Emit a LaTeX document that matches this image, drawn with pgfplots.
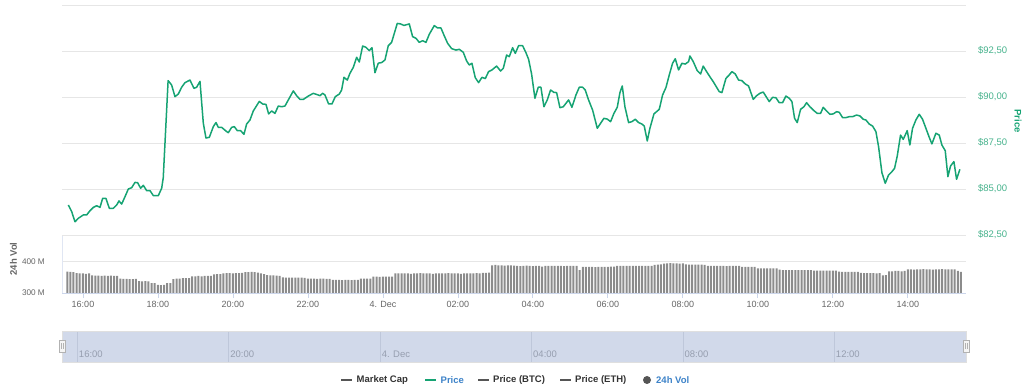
\documentclass[border=0pt]{standalone}
\usepackage{pgfplots}
\pgfplotsset{compat=1.18}
\usepackage{fontspec}
\setmainfont{Liberation Sans}
\definecolor{pricecol}{RGB}{22,163,115}
\definecolor{pricelab}{RGB}{70,178,140}
\definecolor{barcol}{RGB}{140,140,140}
\definecolor{gridcol}{RGB}{230,230,230}
\definecolor{axcol}{RGB}{204,214,235}
\definecolor{tickcol}{RGB}{102,102,102}
\definecolor{navfill}{RGB}{209,217,234}
\definecolor{navgrid}{RGB}{190,199,218}
\definecolor{navlab}{RGB}{150,158,175}
\definecolor{legdark}{RGB}{51,51,51}
\definecolor{legline}{RGB}{85,85,85}
\definecolor{legblue}{RGB}{60,130,200}
\begin{document}
\begin{tikzpicture}[x=1pt,y=1pt]
\useasboundingbox (0,0) rectangle (1024,390);
% ---------------- price pane
\begin{axis}[at={(62pt,155pt)}, anchor=south west, scale only axis,
  width=904pt, height=230pt,
  xmin=-0.56, xmax=23.55, ymin=82.5, ymax=95,
  axis line style={draw=none}, xtick=\empty,
  ytick={82.5,85,87.5,90,92.5,95},
  yticklabels={{\$82,50},{\$85,00},{\$87,50},{\$90,00},{\$92,50},{}},
  yticklabel pos=right, ymajorgrids, major tick length=0pt,
  grid style={draw=gridcol, line width=0.9pt},
  yticklabel style={font=\fontsize{9.5}{11}\selectfont, text=pricelab, anchor=west, xshift=8.5pt},
]
\addplot[color=pricecol, line width=1.5pt, line join=round] coordinates {
(-0.391,84.13) (-0.302,83.77) (-0.213,83.22) (-0.124,83.41) (0.009,83.59) (0.098,83.59) (0.187,83.82) (0.276,84.00) (0.364,84.09) (0.453,84.00) (0.524,84.49) (0.613,84.49) (0.702,83.95) (0.809,83.95) (0.898,84.13) (0.960,84.35) (1.031,84.18) (1.120,84.58) (1.209,85.00) (1.298,85.07) (1.387,85.36) (1.458,85.34) (1.538,85.04) (1.609,85.20) (1.698,84.91) (1.787,84.91) (1.876,84.64) (2.009,84.64) (2.098,85.04) (2.140,85.60) (2.270,90.89) (2.364,90.65) (2.453,90.02) (2.542,90.16) (2.631,90.53) (2.720,90.78) (2.853,90.92) (2.960,90.47) (3.031,90.53) (3.120,90.85) (3.209,88.57) (3.280,87.77) (3.369,87.81) (3.476,88.39) (3.547,88.61) (3.609,88.35) (3.698,88.35) (3.831,88.12) (3.876,88.06) (3.964,88.35) (4.036,88.39) (4.116,88.17) (4.204,88.17) (4.293,87.97) (4.364,88.53) (4.453,88.75) (4.542,89.24) (4.702,89.76) (4.791,89.62) (4.880,89.60) (4.951,89.08) (5.031,89.24) (5.120,89.11) (5.209,89.51) (5.298,89.47) (5.387,89.51) (5.476,89.84) (5.609,90.33) (5.698,90.07) (5.787,89.87) (5.876,89.87) (6.009,90.05) (6.142,90.20) (6.231,90.14) (6.320,90.07) (6.391,90.20) (6.453,90.11) (6.551,89.62) (6.640,89.62) (6.729,90.02) (6.836,90.16) (6.898,90.38) (6.960,91.07) (7.049,90.92) (7.120,91.29) (7.209,91.61) (7.298,92.16) (7.369,91.90) (7.458,92.77) (7.547,92.70) (7.636,92.52) (7.707,92.68)
(7.787,91.32) (7.876,91.84) (7.964,91.87) (8.053,92.01) (8.142,92.79) (8.231,92.97) (8.382,94.00) (8.471,93.97) (8.560,93.89) (8.702,93.97) (8.791,93.28) (8.880,93.19) (8.969,92.97) (9.058,93.06) (9.147,92.97) (9.236,93.41) (9.369,93.88) (9.458,93.75) (9.547,93.75) (9.636,93.32) (9.724,92.92) (9.831,92.63) (9.947,92.55) (10.036,92.59) (10.142,92.43) (10.231,91.96) (10.302,91.74) (10.373,91.83) (10.462,91.05) (10.551,90.78) (10.640,91.07) (10.729,91.00) (10.818,91.38) (10.907,91.47) (11.031,91.68) (11.138,91.41) (11.209,91.56) (11.298,92.28) (11.369,92.19) (11.458,92.68) (11.529,92.37) (11.618,92.79) (11.724,92.79) (11.813,92.41) (11.884,92.05) (11.964,91.25) (12.053,89.93) (12.142,90.53) (12.213,90.53) (12.293,89.47) (12.382,89.84) (12.471,90.38) (12.560,90.25) (12.631,90.24) (12.720,89.42) (12.809,89.47) (12.951,89.84) (13.040,89.44) (13.147,90.11) (13.236,90.53) (13.324,90.53) (13.396,90.38) (13.484,89.84) (13.591,89.29) (13.716,88.30) (13.804,88.57) (13.893,88.84) (13.982,88.80) (14.071,88.66) (14.160,89.11) (14.249,89.44) (14.320,90.24) (14.382,90.60) (14.453,89.47) (14.551,88.61) (14.640,88.66) (14.729,88.79) (14.818,88.61) (14.907,88.53) (14.969,88.42) (15.049,87.61) (15.120,88.30) (15.227,89.08) (15.369,89.33) (15.458,90.11) (15.547,90.51) (15.636,91.20) (15.724,91.83) (15.796,92.08) (15.884,91.47) (15.973,91.83) (16.062,91.79) (16.151,91.92)
(16.187,92.23) (16.276,91.92) (16.382,91.43) (16.471,91.25) (16.542,91.68) (16.631,91.38) (16.720,91.10) (16.809,90.83) (16.898,90.53) (16.969,90.29) (17.040,90.24) (17.147,91.01) (17.236,91.20) (17.307,91.38) (17.396,91.25) (17.484,90.92) (17.573,90.89) (17.662,90.71) (17.751,90.60) (17.876,89.87) (17.964,90.07) (18.053,90.20) (18.142,90.27) (18.231,89.98) (18.302,89.75) (18.391,89.98) (18.480,89.96) (18.569,89.69) (18.658,89.69) (18.747,90.05) (18.836,89.93) (18.907,89.75) (18.978,88.84) (19.049,88.61) (19.138,89.33) (19.227,89.47) (19.298,89.69) (19.387,89.47) (19.493,89.26) (19.582,89.11) (19.671,89.11) (19.742,89.44) (19.831,89.24) (19.920,89.06) (20.009,89.08) (20.098,89.20) (20.169,89.17) (20.258,88.88) (20.347,88.88) (20.436,88.93) (20.524,88.93) (20.631,89.02) (20.720,88.97) (20.809,88.79) (20.880,88.75) (20.969,88.53) (21.058,88.42) (21.147,88.12) (21.218,87.30) (21.307,85.89) (21.396,85.31) (21.484,85.76) (21.573,85.94) (21.644,86.12) (21.716,86.79) (21.804,87.93) (21.876,87.70) (21.982,88.17) (22.053,87.39) (22.124,88.30) (22.213,88.75) (22.302,89.06) (22.391,88.79) (22.480,88.30) (22.569,87.81) (22.640,87.45) (22.747,88.03) (22.836,87.93) (22.907,87.39) (22.996,87.08) (23.067,85.67) (23.138,86.25) (23.227,86.49) (23.298,85.53) (23.387,86.07)
};
\end{axis}
% ---------------- volume pane
\begin{axis}[at={(62pt,97pt)}, anchor=south west, scale only axis,
  width=904pt, height=57pt,
  xmin=-0.56, xmax=23.55, ymin=300, ymax=481,
  axis x line*=bottom, axis y line*=left,
  x axis line style={draw=axcol, line width=0.9pt, -},
  y axis line style={draw=axcol!60, line width=0.8pt, -},
  xtick={0,2,...,22},
  xticklabels={16:00,18:00,20:00,22:00,4. Dec,02:00,04:00,06:00,08:00,10:00,12:00,14:00},
  tick align=outside, x tick style={draw=axcol, line width=0.9pt}, major tick length=5pt,
  ytick={300,400}, yticklabels={300 M,400 M}, y tick style={draw=none},
  ymajorgrids, grid style={draw=gridcol, line width=0.9pt},
  xticklabel style={font=\fontsize{9}{10}\selectfont, text=tickcol},
  yticklabel style={font=\fontsize{8.2}{9}\selectfont, text=tickcol, anchor=east, inner sep=0pt, xshift=-12pt},
]
\addplot[ybar, bar width=2pt, fill=barcol, draw=none] table[header=false, row sep=\\, x expr=\coordindex/12-0.42, y index=0] {
368\\367\\366\\363\\362\\362\\361\\362\\356\\355\\355\\354\\
355\\354\\355\\354\\354\\346\\345\\345\\344\\344\\345\\338\\
337\\338\\337\\331\\331\\326\\325\\326\\331\\331\\344\\346\\
346\\347\\347\\347\\353\\353\\354\\353\\354\\354\\354\\359\\
360\\360\\362\\363\\363\\362\\363\\363\\364\\366\\366\\367\\
366\\365\\362\\360\\357\\356\\356\\355\\354\\350\\349\\349\\
349\\349\\349\\349\\348\\346\\346\\346\\345\\346\\346\\345\\
345\\342\\342\\342\\341\\342\\342\\341\\342\\342\\346\\346\\
346\\346\\352\\352\\351\\352\\352\\352\\352\\362\\362\\362\\
362\\362\\361\\362\\362\\363\\362\\362\\362\\361\\362\\362\\
362\\362\\363\\362\\362\\362\\361\\362\\362\\362\\362\\363\\
362\\364\\364\\365\\388\\389\\388\\388\\387\\388\\388\\387\\
386\\385\\386\\387\\386\\385\\386\\386\\384\\386\\386\\386\\
386\\386\\386\\385\\386\\386\\386\\386\\373\\383\\383\\383\\
383\\382\\383\\383\\383\\383\\384\\384\\386\\386\\386\\386\\
386\\386\\386\\386\\386\\386\\386\\386\\389\\390\\391\\393\\
394\\395\\394\\394\\393\\394\\391\\390\\390\\390\\390\\390\\
389\\386\\386\\386\\386\\386\\386\\385\\386\\386\\386\\386\\
383\\383\\383\\383\\383\\378\\378\\378\\378\\378\\378\\378\\
374\\373\\373\\373\\373\\373\\373\\373\\373\\373\\373\\371\\
371\\371\\371\\371\\371\\371\\371\\368\\367\\367\\367\\367\\
367\\367\\364\\363\\363\\363\\363\\362\\363\\356\\357\\369\\
369\\370\\370\\369\\370\\375\\375\\374\\375\\375\\376\\375\\
375\\374\\375\\375\\376\\375\\375\\375\\375\\370\\367\\
};
\end{axis}
% ---------------- navigator
\begin{axis}[at={(62pt,28pt)}, anchor=south west, scale only axis,
  width=904pt, height=31pt,
  xmin=-0.404, xmax=23.48, ymin=0, ymax=1,
  axis background/.style={fill=navfill},
  axis line style={draw=gray!25, line width=0.8pt},
  xtick={0,4,...,20}, xticklabels={16:00,20:00,4. Dec,04:00,08:00,12:00},
  xmajorgrids, grid style={draw=navgrid, line width=0.6pt},
  ytick=\empty, major tick length=0pt,
  xticklabel style={font=\fontsize{9.5}{10}\selectfont, text=navlab, anchor=base west, inner sep=0pt, xshift=1.5pt, yshift=4.3pt},
]
\end{axis}
% navigator handles
\foreach \hx in {62,966} {
  \draw[fill=gray!8, draw=gray!60, line width=0.6pt] (\hx-3,38) rectangle (\hx+3,49.5);
  \draw[draw=gray!60, line width=0.5pt] (\hx-1,41) -- (\hx-1,46.5) (\hx+1,41) -- (\hx+1,46.5);
}
% axis titles
\node[rotate=90, font=\fontsize{9.5}{11}\selectfont\bfseries, text=tickcol] at (13.5,131) {24h Vol};
\node[rotate=-90, font=\fontsize{9.5}{11}\selectfont\bfseries, text=pricecol] at (1018,269) {Price};
% legend
\begin{scope}[font=\fontsize{9.5}{11}\selectfont\bfseries]
\draw[legline, line width=1.2pt] (341,10) -- (352,10);
\node[anchor=west, inner sep=0pt, text=legdark] at (356.5,10) {Market Cap};
\draw[pricecol, line width=1.2pt] (425,10) -- (436,10);
\node[anchor=west, inner sep=0pt, text=legblue] at (440.5,10) {Price};
\draw[legline, line width=1.2pt] (478,10) -- (489,10);
\node[anchor=west, inner sep=0pt, text=legdark] at (493,10) {Price (BTC)};
\draw[legline, line width=1.2pt] (560,10) -- (571,10);
\node[anchor=west, inner sep=0pt, text=legdark] at (575,10) {Price (ETH)};
\fill[legline] (647,10) circle (4);
\node[anchor=west, inner sep=0pt, text=legblue] at (656,10) {24h Vol};
\end{scope}
\end{tikzpicture}
\end{document}
